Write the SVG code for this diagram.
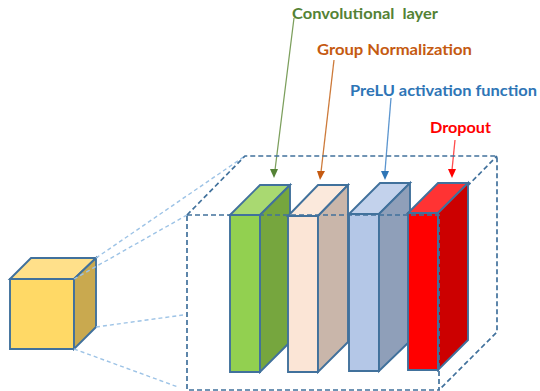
<svg xmlns="http://www.w3.org/2000/svg" width="540" height="391" viewBox="0 0 540 391">
<style>
.e{stroke:#41719c;stroke-width:1.9;stroke-linejoin:miter}
.t{font-family:Lato,"Liberation Sans",sans-serif;font-weight:700;font-size:15.5px}
.d{fill:none;stroke:#41719c;stroke-width:1.7;stroke-dasharray:5 3}
.l{fill:none;stroke:#9dc3e6;stroke-width:1.4;stroke-dasharray:4 3}
.a{fill:none;stroke-width:1.3}
</style>
<rect width="540" height="391" fill="#fff"/>
<g id="cube">
<path class="e" fill="#ffd966" d="M10 279H74V349H10Z"/>
<path class="e" fill="#ffe08a" d="M10 279L31 258H96L74 279Z"/>
<path class="e" fill="#c9a94f" d="M74 279L96 258V327L74 349Z"/>
</g>
<g id="connectors">
<path class="l" d="M96 258L245 156M74 279L187 215M96 327L183 315M74 349L178 387"/>
<path class="a" stroke="#7c9f5c" d="M294 18L275 170"/>
<path d="M270 169H278L274 178Z" fill="#548235"/>
<path class="a" stroke="#cd7a3a" d="M334 60L321 172"/>
<path d="M317 171H325L320 180Z" fill="#c55a11"/>
<path class="a" stroke="#5b95cf" d="M391 98L385 171"/>
<path d="M381 171H389L385 180Z" fill="#2e75b6"/>
<path class="a" stroke="#ff4d4d" d="M455 140L452 170"/>
<path d="M448 169H456L452 178Z" fill="#f00"/>
</g>
<g id="back-box"><path class="d" d="M187 215L245 156H497V332L439 390M439 215L497 156"/></g>
<g id="conv-layer">
<path class="e" fill="#92d050" d="M230 215H260V372H230Z"/>
<path class="e" fill="#a9d971" d="M230 215L260 185H290L260 215Z"/>
<path class="e" fill="#76a63e" d="M260 215L290 185V342L260 372Z"/>
</g>
<g id="group-norm">
<path class="e" fill="#fbe5d6" d="M288 216H318V372H288Z"/>
<path class="e" fill="#fbe9dc" d="M288 216L318 185H348L318 216Z"/>
<path class="e" fill="#c9b6aa" d="M318 216L348 185V342L318 372Z"/>
</g>
<g id="prelu">
<path class="e" fill="#b4c7e7" d="M349 214H379V371H349Z"/>
<path class="e" fill="#c3d2ec" d="M349 214L380 183H410L379 214Z"/>
<path class="e" fill="#8f9fb9" d="M379 214L410 183V341L379 371Z"/>
</g>
<g id="dropout">
<path class="e" fill="#f00" d="M408 213H438V370H408Z"/>
<path class="e" fill="#ff3333" d="M408 213L438 183H468L438 213Z"/>
<path class="e" fill="#cc0000" d="M438 213L468 183V340L438 370Z"/>
</g>
<g id="front-box"><path class="d" d="M187 215H439V390H187Z"/></g>
<g id="labels">
<text class="t" x="292" y="19" fill="#548235" textLength="146" lengthAdjust="spacingAndGlyphs" xml:space="preserve">Convolutional  layer</text>
<text class="t" x="317" y="55" fill="#c55a11" textLength="155" lengthAdjust="spacingAndGlyphs">Group Normalization</text>
<text class="t" x="350" y="96" fill="#2e75b6" textLength="187" lengthAdjust="spacingAndGlyphs">PreLU activation function</text>
<text class="t" x="430" y="133" fill="#f00" textLength="61" lengthAdjust="spacingAndGlyphs">Dropout</text>
</g>
</svg>
